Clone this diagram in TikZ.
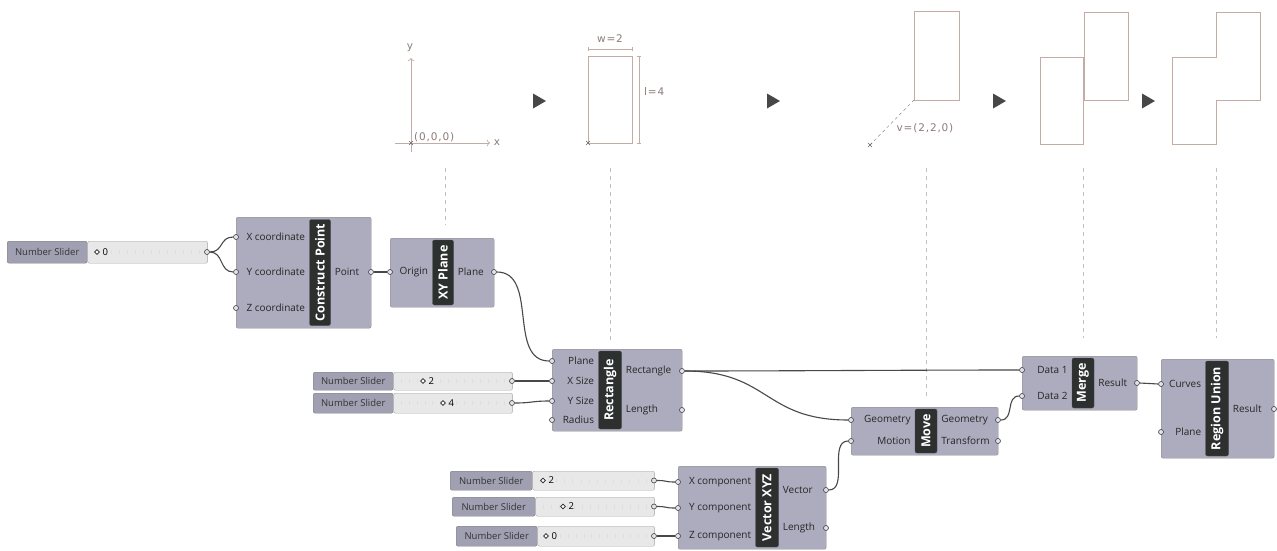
\documentclass[tikz,border=0pt]{standalone}
\usepackage{fontspec}
\setmainfont{Open Sans}
\newfontfamily\sketchfont[LetterSpace=8]{DejaVu Sans}
\usetikzlibrary{positioning,shapes.geometric,arrows.meta}

\definecolor{compfill}{RGB}{172,172,190}
\definecolor{barfill}{RGB}{44,48,46}
\definecolor{wirecol}{RGB}{72,72,72}
\definecolor{sliderlbl}{RGB}{160,160,178}
\definecolor{slidertrack}{RGB}{232,232,232}
\definecolor{sketch}{RGB}{196,172,166}
\definecolor{sketchtext}{RGB}{140,124,120}
\definecolor{guidecol}{RGB}{200,190,186}

\tikzset{
  comp/.style={draw=black!45, fill=compfill, rounded corners=2pt, inner sep=0pt, anchor=north west},
  bar/.style={draw=black!70, fill=barfill, rounded corners=2pt, inner sep=0pt, rotate=90,
    text=white, font=\bfseries\fontsize{12.5}{12.5}\selectfont},
  port/.style={circle, draw=black!75, fill=compfill!35, line width=0.6pt, inner sep=0pt, minimum size=5pt},
  lbl/.style={font=\fontsize{10}{11}\selectfont, text=black!85, inner sep=1pt},
  inlbl/.style={lbl, anchor=east, xshift=-3pt},
  outlbl/.style={lbl, anchor=west, xshift=3pt},
  wire/.style={draw=wirecol, line width=1.1pt},
  slbl/.style={draw=black!50, fill=sliderlbl, rounded corners=2pt, inner sep=0pt, anchor=north west,
    text=black!80, font=\fontsize{9.5}{10}\selectfont},
  strack/.style={draw=black!35, fill=slidertrack, rounded corners=2pt, inner sep=0pt, anchor=north west},
  knob/.style={diamond, draw=black!85, line width=0.7pt, fill=white, inner sep=0pt, minimum size=5pt},
  sval/.style={font=\fontsize{9.5}{10}\selectfont, inner sep=1pt},
  sketchline/.style={draw=sketch, line width=0.7pt},
  sketchtxt/.style={text=sketchtext, font=\sketchfont\fontsize{10.5}{12}\selectfont, inner sep=1pt},
  guide/.style={draw=guidecol, dashed, dash pattern=on 4pt off 4pt, line width=0.6pt},
  playtri/.style={fill=black!72},
}

\begin{document}
\begin{tikzpicture}[x=1pt, y=-1pt]
  \path[fill=white] (0,0) rectangle (1277,551);
  \useasboundingbox (0,0) rectangle (1277,551);

  % --- sketches of each step ---
  \draw[sketchline, ->] (411,152) -- (411,58);
  \draw[sketchline, ->] (395,143) -- (490,143);
  \node[sketchtxt] (ax-y) at (410,48) {y};
  \node[sketchtxt] (ax-x) at (497,143) {x};
  \node[sketchtxt, anchor=south west] (org) at (413,143) {(0,0,0)};
  \draw[black!60, line width=0.5pt] (409,141) -- (413,145) (409,145) -- (413,141);

  \draw[sketchline] (588,56) rectangle (632,143);
  \draw[sketchline, line width=0.4pt, {Bar[width=4pt]}-{Bar[width=4pt]}] (588,49) -- (632,49);
  \draw[sketchline, line width=0.4pt, {Bar[width=4pt]}-{Bar[width=4pt]}] (639,56) -- (639,143);
  \node[sketchtxt] (dim-w) at (610,39) {w=2};
  \node[sketchtxt, anchor=west] (dim-l) at (643,92) {l=4};
  \draw[black!60, line width=0.5pt] (586,141) -- (590,145) (586,145) -- (590,141);

  \draw[sketchline] (914,11) rectangle (959,100);
  \draw[black!45, dashed, line width=0.5pt] (870,145) -- (914,100);
  \node[sketchtxt] (vec) at (925,128) {v=(2,2,0)};
  \draw[black!60, line width=0.5pt] (868,143) -- (872,147) (868,147) -- (872,143);

  \draw[sketchline] (1040,57) rectangle (1083,144);
  \draw[sketchline] (1084,12) rectangle (1128,100);

  \draw[sketchline] (1172,57) -- (1216,57) -- (1216,12) -- (1260,12) -- (1260,100)
    -- (1216,100) -- (1216,144) -- (1172,144) -- cycle;

  % play triangles between the steps
  \foreach \px in {533,767,993,1142}
    \fill[playtri] (\px,93.5) -- (\px+13,101) -- (\px,108.5) -- cycle;

  % --- guides down to the components ---
  \foreach \gx/\gy in {445/225, 610/340, 926/397, 1083/338, 1216/338}
    \draw[guide] (\gx,168) -- (\gx,\gy);

  % --- number sliders ---
  \foreach \n/\x/\y/\h/\lw/\xe/\kx/\val in {
      s0/7/241/22/80/207/97/0,
      s1/313/372/18/80/512/423/2,
      s2/313/393/20/80/512/443/4,
      s3/450/471/19/82/654/543/2,
      s4/452/497/19/83/654/563/2,
      s5/456/526/20/81/654/546/0} {
    \pgfmathsetmacro{\tw}{\xe-\x-\lw}
    \pgfmathsetmacro{\cy}{\y+\h/2}
    \node[slbl, minimum width=\lw pt, minimum height=\h pt] (\n) at (\x,\y) {Number Slider};
    \node[strack, minimum width=\tw pt, minimum height=\h pt] (\n-tr) at (\n.north east) {};
    \foreach \i in {1,...,14}
      \draw[black!13, line width=0.4pt] ({\x+\lw+\i*\tw/15},\cy-2) -- ++(0,4);
    \node[knob] (\n-k) at (\kx,\cy) {};
    \node[sval, right=1.5pt of \n-k] (\n-v) {\val};
    \node[port] (\n-o) at (\xe,\cy) {};
  }

  % --- Construct Point ---
  \node[comp, minimum width=135pt, minimum height=111pt] (cp) at (236,217) {};
  \node[bar, minimum width=106pt, minimum height=21pt] (cp-bar) at (320,272.5) {Construct Point};
  \foreach \n/\py/\lab in {x/237/X coordinate, y/272/Y coordinate, z/308/Z coordinate} {
    \node[port] (cp-\n) at (236,\py) {};
    \node[inlbl] (cp-\n-t) at (cp-bar.north |- cp-\n) {\lab};
  }
  \node[port] (cp-pt) at (371,272) {};
  \node[outlbl] (cp-pt-t) at (cp-bar.south |- cp-pt) {Point};

  % --- XY Plane ---
  \node[comp, minimum width=104pt, minimum height=69pt] (xy) at (390,238) {};
  \node[bar, minimum width=65pt, minimum height=21pt] (xy-bar) at (443,272.5) {XY Plane};
  \node[port] (xy-or) at (390,272) {};
  \node[inlbl] (xy-or-t) at (xy-bar.north |- xy-or) {Origin};
  \node[port] (xy-pl) at (494,272) {};
  \node[outlbl] (xy-pl-t) at (xy-bar.south |- xy-pl) {Plane};

  % --- Rectangle ---
  \node[comp, minimum width=130pt, minimum height=82pt] (rc) at (552,349) {};
  \node[bar, minimum width=78pt, minimum height=23pt] (rc-bar) at (610,390) {Rectangle};
  \foreach \n/\py/\lab in {pl/361/Plane, xs/381/X Size, ys/401/Y Size, ra/420/Radius} {
    \node[port] (rc-\n) at (552,\py) {};
    \node[inlbl] (rc-\n-t) at (rc-bar.north |- rc-\n) {\lab};
  }
  \foreach \n/\py/\lab in {re/371/Rectangle, le/410/Length} {
    \node[port] (rc-\n) at (682,\py) {};
    \node[outlbl] (rc-\n-t) at (rc-bar.south |- rc-\n) {\lab};
  }

  % --- Vector XYZ ---
  \node[comp, minimum width=148pt, minimum height=83pt] (vx) at (678,466) {};
  \node[bar, minimum width=79pt, minimum height=23pt] (vx-bar) at (767,507.5) {Vector XYZ};
  \foreach \n/\py/\lab in {x/482/X component, y/508/Y component, z/536/Z component} {
    \node[port] (vx-\n) at (678,\py) {};
    \node[inlbl] (vx-\n-t) at (vx-bar.north |- vx-\n) {\lab};
  }
  \foreach \n/\py/\lab in {ve/490/Vector, le/528/Length} {
    \node[port] (vx-\n) at (826,\py) {};
    \node[outlbl] (vx-\n-t) at (vx-bar.south |- vx-\n) {\lab};
  }

  % --- Move ---
  \node[comp, minimum width=147pt, minimum height=48pt] (mv) at (851,407) {};
  \node[bar, minimum width=44pt, minimum height=22pt] (mv-bar) at (926,431) {Move};
  \foreach \n/\py/\lab in {ge/420/Geometry, mo/441/Motion} {
    \node[port] (mv-\n) at (851,\py) {};
    \node[inlbl] (mv-\n-t) at (mv-bar.north |- mv-\n) {\lab};
  }
  \foreach \n/\py/\lab in {go/420/Geometry, tr/441/Transform} {
    \node[port] (mv-\n) at (998,\py) {};
    \node[outlbl] (mv-\n-t) at (mv-bar.south |- mv-\n) {\lab};
  }

  % --- Merge ---
  \node[comp, minimum width=115pt, minimum height=54pt] (mg) at (1022,356) {};
  \node[bar, minimum width=50pt, minimum height=22pt] (mg-bar) at (1083,383) {Merge};
  \foreach \n/\py/\lab in {d1/370/Data 1, d2/396/Data 2} {
    \node[port] (mg-\n) at (1022,\py) {};
    \node[inlbl] (mg-\n-t) at (mg-bar.north |- mg-\n) {\lab};
  }
  \node[port] (mg-rs) at (1137,383) {};
  \node[outlbl] (mg-rs-t) at (mg-bar.south |- mg-rs) {Result};

  % --- Region Union ---
  \node[comp, minimum width=113pt, minimum height=99pt] (ru) at (1161,359) {};
  \node[bar, minimum width=95pt, minimum height=23pt] (ru-bar) at (1217,408.5) {Region Union};
  \foreach \n/\py/\lab in {cu/384/Curves, pl/432/Plane} {
    \node[port] (ru-\n) at (1161,\py) {};
    \node[inlbl] (ru-\n-t) at (ru-bar.north |- ru-\n) {\lab};
  }
  \node[port] (ru-rs) at (1274,409) {};
  \node[outlbl] (ru-rs-t) at (ru-bar.south |- ru-rs) {Result};

  % --- wires ---
  \draw[wire] (s0-o.east) .. controls +(14,0) and +(-14,0) .. (cp-x.west);
  \draw[wire] (s0-o.east) .. controls +(14,0) and +(-14,0) .. (cp-y.west);
  \draw[wire] (cp-pt.east) -- (xy-or.west);
  \draw[wire] (xy-pl.east) .. controls +(42,0) and +(-42,0) .. (rc-pl.west);
  \draw[wire] (s1-o.east) .. controls +(18,0) and +(-18,0) .. (rc-xs.west);
  \draw[wire] (s2-o.east) .. controls +(18,0) and +(-18,0) .. (rc-ys.west);
  \draw[wire] (rc-re.east) .. controls +(100,0) and +(-100,0) .. (mg-d1.west);
  \draw[wire] (rc-re.east) .. controls +(85,0) and +(-85,0) .. (mv-ge.west);
  \draw[wire] (s3-o.east) .. controls +(12,0) and +(-12,0) .. (vx-x.west);
  \draw[wire] (s4-o.east) .. controls +(12,0) and +(-12,0) .. (vx-y.west);
  \draw[wire] (s5-o.east) .. controls +(12,0) and +(-12,0) .. (vx-z.west);
  \draw[wire] (vx-ve.east) .. controls +(20,0) and +(-20,0) .. (mv-mo.west);
  \draw[wire] (mv-go.east) .. controls +(14,0) and +(-14,0) .. (mg-d2.west);
  \draw[wire] (mg-rs.east) -- (ru-cu.west);

\end{tikzpicture}
\end{document}
